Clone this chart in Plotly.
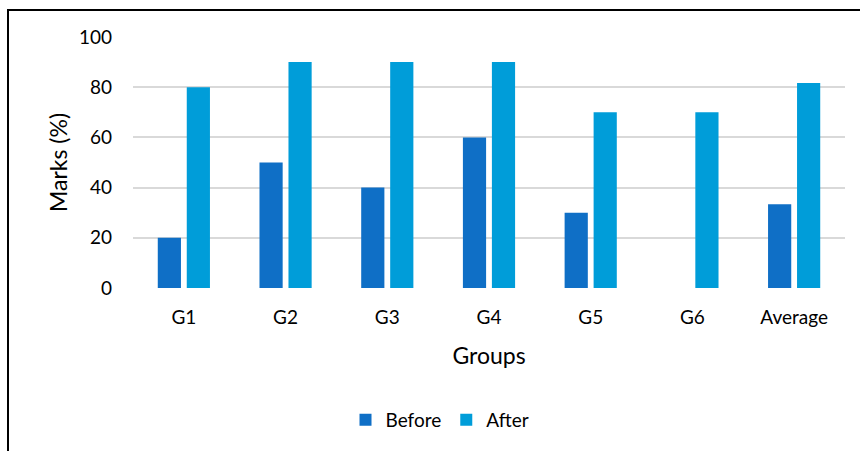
import plotly.graph_objects as go

groups = ["G1", "G2", "G3", "G4", "G5", "G6", "Average"]
before = [20, 50, 40, 60, 30, 0, 200 / 6]
after = [80, 90, 90, 90, 70, 70, 490 / 6]
y_ticks = [0, 20, 40, 60, 80, 100]

FONT = "Lato"
W, H = 860, 451
L, R, T, B = 133, 15, 37, 163
plot_w = W - L - R
plot_h = H - T - B


def px_x(x):
    return (x - L) / plot_w


def px_y(y):
    return (H - B - y) / plot_h


fig = go.Figure()
fig.add_trace(go.Bar(name="Before", x=groups, y=before, marker=dict(color="#0F6FC6", line=dict(width=0))))
fig.add_trace(go.Bar(name="After", x=groups, y=after, marker=dict(color="#009DD9", line=dict(width=0))))

fig.update_layout(
    width=W, height=H,
    margin=dict(l=L, r=R, t=T, b=B, autoexpand=False),
    paper_bgcolor="white", plot_bgcolor="white",
    font=dict(family=FONT, size=19, color="#000000"),
    barmode="group", bargap=0.43, bargroupgap=0.2,
    showlegend=True,
    legend=dict(orientation="h", x=px_x(440), xanchor="center", y=px_y(420), yanchor="middle",
                font=dict(size=19), itemwidth=30, traceorder="normal", tracegroupgap=0),
    xaxis=dict(showgrid=False, showline=False, ticks="", ticklabelstandoff=16,
               title=dict(text="Groups", standoff=20)),
    yaxis=dict(range=[0, 100], tickvals=y_ticks, showgrid=True, gridcolor="#D9D9D9", gridwidth=1.5,
               zeroline=False, showline=False, ticks="", ticklabelstandoff=20,
               title=dict(text="Marks (%)", standoff=4)),
    shapes=[
        dict(type="line", xref="paper", yref="paper", x0=px_x(8), x1=px_x(8), y0=px_y(10), y1=px_y(460),
             line=dict(color="#000000", width=2)),
        dict(type="line", xref="paper", yref="paper", x0=px_x(7), x1=px_x(870), y0=px_y(10), y1=px_y(10),
             line=dict(color="#000000", width=2)),
    ],
)

fig.write_html("out.html")
